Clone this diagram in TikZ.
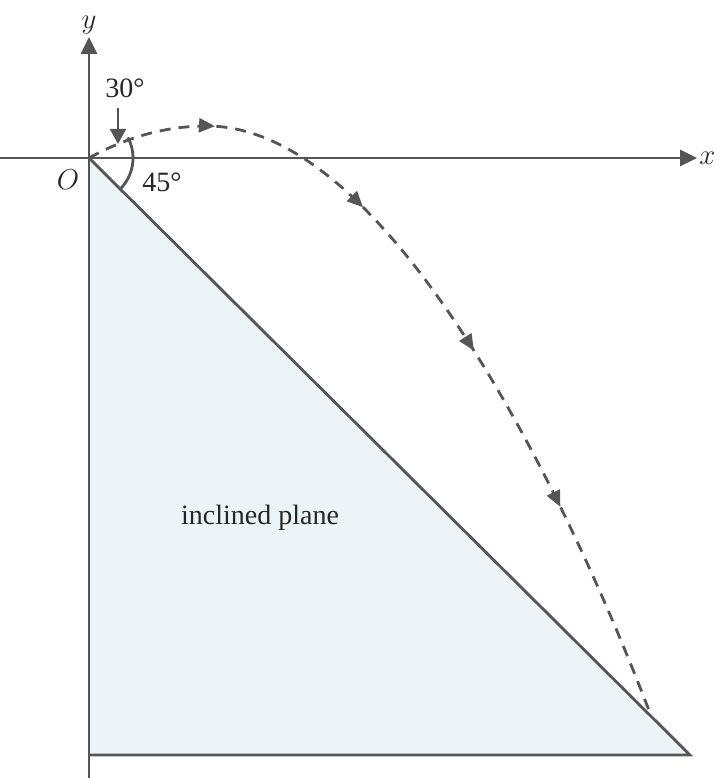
\documentclass[tikz,border=0pt]{standalone}
\usepackage{fontspec}
\setmainfont{Liberation Serif}
\usetikzlibrary{arrows.meta,decorations.markings}

\definecolor{ink}{HTML}{555555}
\definecolor{planefill}{HTML}{EBF5F7}

\tikzset{
    achse/.style={draw=ink, line width=1.4pt, -{Triangle[length=8.5pt,width=8pt]}},
    kante/.style={draw=ink, line width=1.4pt},
    spitze/.tip={Triangle[length=8pt,width=7pt]},
    bahn/.style={draw=ink, line width=1.4pt, dash pattern=on 5.5pt off 4pt,
        postaction={decorate},
        decoration={markings,
            mark=at position 0.148 with {\arrow{spitze}},
            mark=at position 0.342 with {\arrow{spitze}},
            mark=at position 0.546 with {\arrow{spitze}},
            mark=at position 0.747 with {\arrow{spitze}}}},
    beschr/.style={inner sep=1pt, font=\fontsize{14}{16}\selectfont, text=black!85}
}

\begin{document}
\begin{tikzpicture}[x=0.5pt, y=0.5pt]
    \useasboundingbox (0,0) rectangle (717,778);
    \path coordinate (O) at (89,620)
        coordinate (Xl) at (0,620)
        coordinate (Xr) at (697,620)
        coordinate (Yu) at (89,0)
        coordinate (Yo) at (89,741)
        coordinate (BL) at (89,23)
        coordinate (BR) at (690,23)
        coordinate (A) at (207,652)
        coordinate (P) at (650,65);
    \fill[planefill] (O) -- (BR) -- (BL) -- cycle;
    \draw[kante] (O) -- (BR) -- (BL);
    \draw[achse] (Xl) -- (Xr);
    \draw[achse] (Yu) -- (Yo);
    \node[beschr, anchor=west] (xlab) at (Xr) {$x$};
    \node[beschr, anchor=south] (ylab) at (Yo) {$y$};
    \node[beschr] (olab) at (68,598) {$O$};
    \node[beschr] (w45) at (162,596) {45°};
    \node[beschr] (w30) at (125,690) {30°};
    \node[beschr] (ebene) at (260,260) {inclined plane};
    \draw[kante] ([shift={(28:22pt)}]O) arc[start angle=28, end angle=-45, radius=22pt];
    \coordinate (W30a) at (118,670);
    \coordinate (W30b) at (118,634);
    \draw[kante, line width=1pt, -{Triangle[length=7.5pt,width=8pt]}] (W30a) -- (W30b);
    \draw[bahn] (O) .. controls (127,641) and (166,652) .. (A)
        .. controls (385,652) and (560,300) .. (P);
\end{tikzpicture}
\end{document}
